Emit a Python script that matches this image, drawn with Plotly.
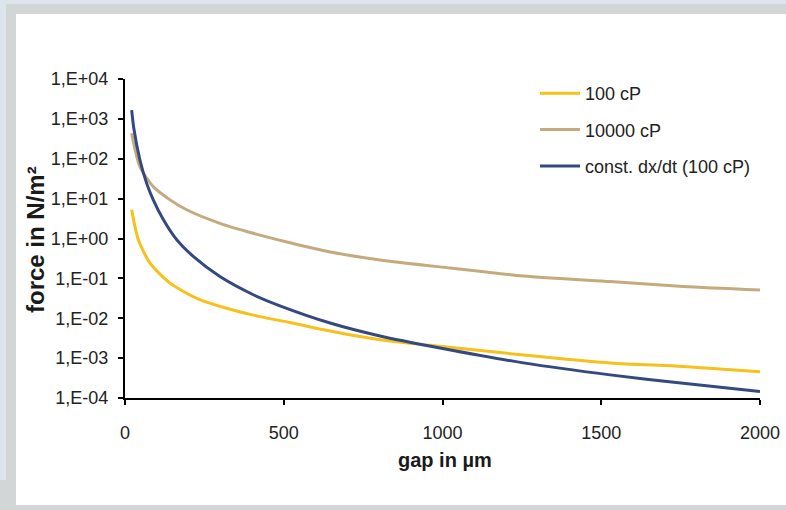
import plotly.graph_objects as go

# ---- data ----
gap_blue = [21, 28, 47, 68, 89, 121, 163, 215, 299, 404, 488, 646, 803, 992, 1255, 1528, 1758, 2000]
force_blue = [1660, 562, 93, 24.5, 9.3, 2.95, 0.93, 0.355, 0.111, 0.0389, 0.0205, 0.0076,
              0.0036, 0.00180, 0.000760, 0.000380, 0.000234, 0.000145]

gap_yellow = [21, 42, 79, 142, 226, 320, 425, 520, 646, 803, 961, 1255, 1528, 1758, 2000]
force_yellow = [5.25, 0.93, 0.24, 0.0759, 0.0316, 0.0178, 0.011, 0.0078, 0.0048, 0.00290,
                0.00210, 0.0012, 0.000760, 0.000617, 0.000457]

gap_tan = [21, 47, 89, 142, 194, 299, 404, 520, 646, 803, 1024, 1255, 1528, 1758, 2000]
force_tan = [437, 63, 20, 9.3, 5.25, 2.4, 1.35, 0.78, 0.46, 0.29, 0.182, 0.115, 0.083, 0.0630, 0.0513]

y_tickvals = [1e-4, 1e-3, 1e-2, 1e-1, 1e0, 1e1, 1e2, 1e3, 1e4]
y_ticktext = ["1,E-04", "1,E-03", "1,E-02", "1,E-01", "1,E+00", "1,E+01", "1,E+02", "1,E+03", "1,E+04"]
x_tickvals = [0, 500, 1000, 1500, 2000]

names = ["100 cP", "10000 cP", "const. dx/dt (100 cP)"]
colors = ["#F5C11A", "#C4AA7C", "#34497F"]

# ---- layout geometry (pixels) ----
W, H = 786, 510
L, R, T, B = 125, 760, 79, 398


def px(x):
    return (x - L) / (R - L)


def py(y):
    return (B - y) / (B - T)


FONT = "Liberation Sans, Arial, sans-serif"

fig = go.Figure()
for gx, gy, nm, col, grp in [(gap_yellow, force_yellow, names[0], colors[0], "a"),
                             (gap_tan, force_tan, names[1], colors[1], "b"),
                             (gap_blue, force_blue, names[2], colors[2], "c")]:
    fig.add_trace(go.Scatter(x=gx, y=gy, name=nm, mode="lines",
                             line=dict(color=col, width=3, shape="spline", smoothing=0.7),
                             legendgroup=grp))

shapes = [
    dict(type="rect", xref="paper", yref="paper", x0=px(0), x1=px(W), y0=py(4), y1=py(0),
         fillcolor="#DDE5EC", line=dict(width=0), layer="below"),
    dict(type="rect", xref="paper", yref="paper", x0=px(0), x1=px(6), y0=py(480), y1=py(0),
         fillcolor="#DDE5EC", line=dict(width=0), layer="below"),
    dict(type="rect", xref="paper", yref="paper", x0=px(16), x1=px(W + 2), y0=py(505), y1=py(14),
         fillcolor="white", line=dict(width=0), layer="below"),
]

annotations = [
    dict(text="<b>gap in µm</b>", xref="paper", yref="paper", x=px(445), y=py(460),
         xanchor="center", yanchor="middle", showarrow=False,
         font=dict(family=FONT, size=20, color="#1a1a1a")),
    dict(text="<b>force in N/m²</b>", xref="paper", yref="paper", x=px(36), y=py(239),
         xanchor="center", yanchor="middle", showarrow=False, textangle=-90,
         font=dict(family=FONT, size=24, color="#1a1a1a")),
]

fig.update_layout(
    width=W, height=H, autosize=False,
    margin=dict(l=L, r=W - R, t=T, b=H - B, autoexpand=False),
    paper_bgcolor="#D2D6D6",
    plot_bgcolor="white",
    shapes=shapes,
    annotations=annotations,
    font=dict(family=FONT, size=18, color="#222222"),
    showlegend=True,
    legend=dict(x=px(535), y=py(75), xanchor="left", yanchor="top",
                bgcolor="rgba(0,0,0,0)", tracegroupgap=10, traceorder="grouped",
                font=dict(family=FONT, size=18, color="#222222"), itemwidth=40),
    xaxis=dict(range=[0, 2000], tickvals=x_tickvals, ticktext=[str(v) for v in x_tickvals],
               showgrid=False, zeroline=False, showline=True, linecolor="black", linewidth=2,
               ticks="outside", ticklen=5, tickwidth=2, tickcolor="black", automargin=False,
               ticklabelstandoff=12, tickfont=dict(family=FONT, size=18, color="#222222")),
    yaxis=dict(type="log", range=[-4, 4], tickvals=y_tickvals, ticktext=y_ticktext,
               showgrid=False, zeroline=False, showline=True, linecolor="black", linewidth=2,
               ticks="outside", ticklen=5, tickwidth=2, tickcolor="black", automargin=False,
               ticklabelstandoff=6, tickfont=dict(family=FONT, size=18, color="#222222")),
)

fig.write_html("out.html",
               config={"responsive": False, "displayModeBar": False},
               post_script="document.body.style.margin='0';document.body.style.overflow='hidden';")
